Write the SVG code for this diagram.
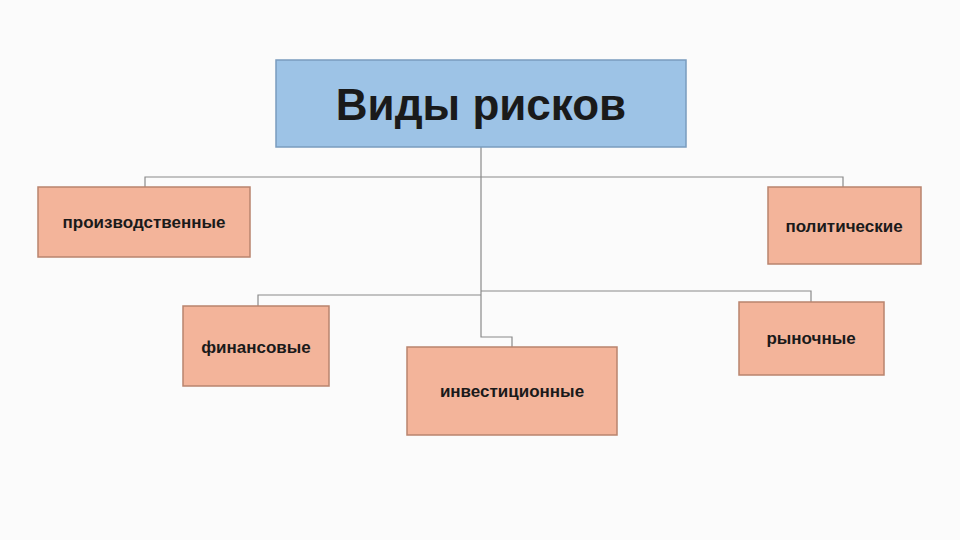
<svg xmlns="http://www.w3.org/2000/svg" width="960" height="540" viewBox="0 0 960 540">
<style>
.b{fill:#F3B49A;stroke:#B9846E;stroke-width:1.5}
.t{font-family:"Liberation Sans",Arial,sans-serif;font-weight:bold;font-size:17px;fill:#1a1a1a;text-anchor:middle;dominant-baseline:central}
.c{fill:none;stroke:#8a8a8a;stroke-width:1.2}
</style>
<rect width="960" height="540" fill="#FBFBFB"/>
<g id="connectors">
<polyline class="c" points="481,147 481,337 512,337 512,347"/>
<polyline class="c" points="145,187 145,177 843,177 843,187"/>
<polyline class="c" points="258,306 258,295 481,295"/>
<polyline class="c" points="481,291 811,291 811,302"/>
</g>
<g id="root"><rect x="276" y="60" width="410" height="87" fill="#9DC3E6" stroke="#7A9CBE" stroke-width="1.5"/><text class="t" x="481" y="104" style="font-size:44px">Виды рисков</text></g>
<g id="n1"><rect class="b" x="38" y="187" width="212" height="70"/><text class="t" x="144" y="222">производственные</text></g>
<g id="n2"><rect class="b" x="768" y="187" width="153" height="77"/><text class="t" x="844" y="226">политические</text></g>
<g id="n3"><rect class="b" x="183" y="306" width="146" height="80"/><text class="t" x="256" y="347">финансовые</text></g>
<g id="n4"><rect class="b" x="739" y="302" width="145" height="73"/><text class="t" x="811" y="338">рыночные</text></g>
<g id="n5"><rect class="b" x="407" y="347" width="210" height="88"/><text class="t" x="512" y="391">инвестиционные</text></g>
</svg>
